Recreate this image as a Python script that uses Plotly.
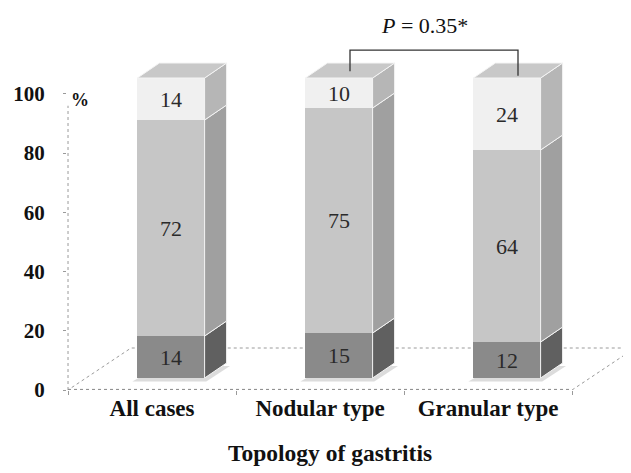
import plotly.graph_objects as go

# ---- data ----
categories = ["All cases", "Nodular type", "Granular type"]
seg_bottom = [14, 15, 12]
seg_middle = [72, 75, 64]
seg_top = [14, 10, 24]
y_tick_values = [0, 20, 40, 60, 80, 100]
p_label = "<i>P</i> = 0.35*"
x_title = "Topology of gastritis"

# ---- styling / geometry ----
SERIF = "Liberation Serif"
W = 0.4            # bar width (category units)
DX, DY = 0.131, 5  # 3D depth offset of bars
FRONT_DX = -0.113  # front plane shift (x)
FRONT_Y0 = -4      # front plane base (y units)
FRONT_SCALE = 0.987
FLOOR_DX, FLOOR_DY = 0.375, 14

series = [
    (seg_bottom, "#8a8a8a", "#606060"),
    (seg_middle, "#c6c6c6", "#a0a0a0"),
    (seg_top, "#f0f0f0", "#b6b6b6"),
]
xs = list(range(len(categories)))

fig = go.Figure()
for vals, front, side in series:
    fig.add_trace(go.Bar(
        x=xs, y=vals, width=W, marker=dict(color=front, line=dict(width=0)),
        text=[str(v) for v in vals], textposition="inside", insidetextanchor="middle",
        textangle=0, constraintext="none",
        textfont=dict(family=SERIF, size=22, color="#2a2a2a"),
        hoverinfo="skip", showlegend=False,
    ))

shapes = []
# floor
fl, fr = -0.5 + FRONT_DX, len(categories) - 0.5 + FRONT_DX
shapes.append(dict(type="path", xref="x", yref="y", layer="below",
                   path=f"M{fl},{FRONT_Y0} L{fr},{FRONT_Y0} L{fr+FLOOR_DX},{FRONT_Y0+FLOOR_DY} L{fl+FLOOR_DX},{FRONT_Y0+FLOOR_DY} Z",
                   line=dict(color="#9a9a9a", width=1, dash="dot")))
# y axis line
shapes.append(dict(type="line", xref="x", yref="y", layer="below",
                   x0=fl, x1=fl, y0=FRONT_Y0, y1=FRONT_Y0 + 96 * FRONT_SCALE,
                   line=dict(color="#9a9a9a", width=1, dash="dot")))
# bar bases + sides + tops
for i in xs:
    xr = i + W / 2
    xl = i - W / 2
    shapes.append(dict(type="path", xref="x", yref="y", layer="below",
                       path=f"M{xl-0.03},-1.2 L{xr+0.01},-1.2 L{xr+DX+0.02},{DY-1} L{xl+DX},{DY-1} Z",
                       fillcolor="#dcdcdc", line=dict(width=0)))
    base = 0
    for vals, front, side in series:
        y0, y1 = base, base + vals[i]
        shapes.append(dict(type="path", xref="x", yref="y",
                           path=f"M{xr},{y0} L{xr+DX},{y0+DY} L{xr+DX},{y1+DY} L{xr},{y1} Z",
                           fillcolor=side, line=dict(color="#f4f4f4", width=1)))
        base = y1
    shapes.append(dict(type="path", xref="x", yref="y",
                       path=f"M{xl},{base} L{xl+DX},{base+DY} L{xr+DX},{base+DY} L{xr},{base} Z",
                       fillcolor="#c8c8c8", line=dict(color="#f4f4f4", width=1)))
# front floor line
shapes.append(dict(type="line", xref="x", yref="y", layer="below",
                   x0=fl, x1=fr, y0=FRONT_Y0 + 0.2, y1=FRONT_Y0 + 0.2,
                   line=dict(color="#8a8a8a", width=1, dash="dot")))
# significance bracket between bars 2 and 3
yb = 100 + DY * 0.45
ytop = 109.3
shapes.append(dict(type="path", xref="x", yref="y",
                   path=f"M{1+DX/2},{yb} L{1+DX/2},{ytop} L{2+DX/2},{ytop} L{2+DX/2},{yb-1.5}",
                   line=dict(color="#333333", width=1.3)))

x_left = -(171 - 67) / 168
x_right = x_left + 564 / 168

fig.update_layout(
    width=623, height=465,
    margin=dict(l=59, r=0, t=12, b=83),
    paper_bgcolor="white", plot_bgcolor="white",
    barmode="stack", bargap=0,
    shapes=shapes,
    xaxis=dict(range=[x_left, x_right], showgrid=False, zeroline=False, showline=False,
               tickvals=[i + FRONT_DX for i in xs], ticktext=categories, ticks="",
               ticklabelstandoff=2,
               tickfont=dict(family=SERIF, size=23, color="#111111", weight="bold"),
               minor=dict(tickvals=[k - 0.5 + FRONT_DX for k in range(len(categories) + 1)],
                          ticks="outside", ticklen=4, tickcolor="#9a9a9a")),
    yaxis=dict(range=[FRONT_Y0, (378 - 20) / 3], showgrid=False, zeroline=False, showline=False,
               tickvals=[FRONT_Y0 + v * FRONT_SCALE for v in y_tick_values],
               ticktext=[str(v) for v in y_tick_values],
               ticks="outside", ticklen=3, tickcolor="#9a9a9a", ticklabelstandoff=14,
               tickfont=dict(family=SERIF, size=21, color="#111111", weight="bold")),
    annotations=[
        dict(text="<b>%</b>", xref="paper", yref="y", x=0.004, y=FRONT_Y0 + 98 * FRONT_SCALE,
             xanchor="left", yanchor="middle", showarrow=False,
             font=dict(family=SERIF, size=18, color="#111111")),
        dict(text=p_label, xref="x", yref="y", x=1.51, y=117.6, xanchor="center", yanchor="middle",
             showarrow=False, font=dict(family=SERIF, size=22, color="#111111")),
        dict(text=f"<b>{x_title}</b>", xref="paper", yref="paper", x=0.466, y=-0.17,
             xanchor="center", yanchor="middle", showarrow=False,
             font=dict(family=SERIF, size=23.5, color="#111111")),
    ],
)

fig.write_html("out.html")
